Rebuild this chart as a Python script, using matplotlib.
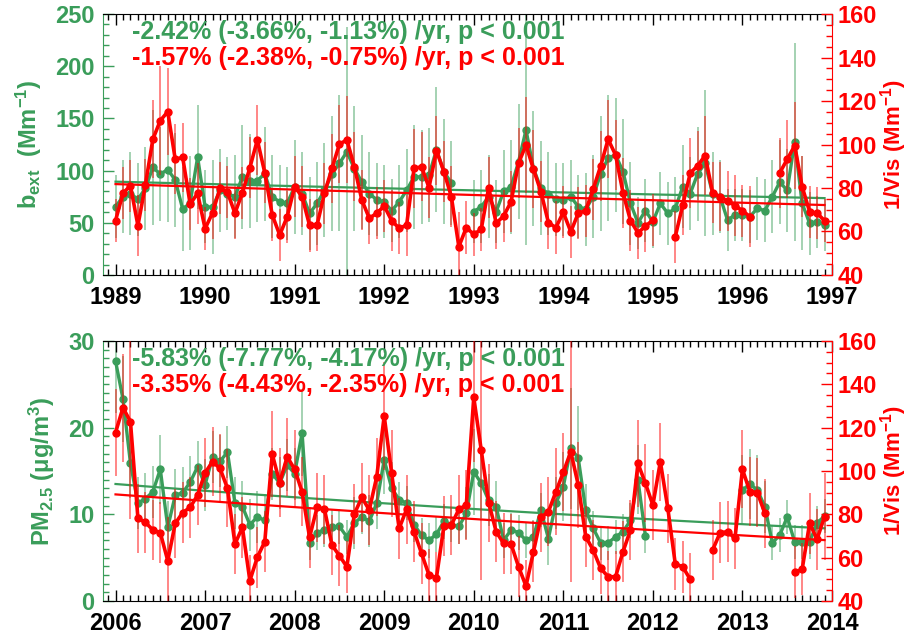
import numpy as np
import matplotlib
matplotlib.use("Agg")
import matplotlib.pyplot as plt
from matplotlib.ticker import MultipleLocator

nan = np.nan
plt.rcParams['font.family'] = ['Liberation Sans', 'DejaVu Sans']
plt.rcParams['mathtext.fontset'] = 'custom'
plt.rcParams['mathtext.rm'] = 'Liberation Sans:bold'
plt.rcParams['mathtext.it'] = 'Liberation Sans:bold'
plt.rcParams['mathtext.bf'] = 'Liberation Sans:bold'

# ---------------- data ----------------
years_top = [1989, 1990, 1991, 1992, 1993, 1994, 1995, 1996, 1997]
years_bot = [2006, 2007, 2008, 2009, 2010, 2011, 2012, 2013, 2014]

bext = [65.4, 75, 78, 72.5, 83, 103, 96.7, 101, 91, 63, 69, 113,
        65.4, 65, 81, 78, 75, 94, 90, 90.5, 97, 75, 70, 68.6,
        84.6, 78, 59, 68.6, 81, 97, 107, 118, 102, 89, 78, 72,
        70, 61.6, 70, 81, 94, 94, 95.5, 120, 99, 88, nan, nan,
        60.6, 65.4, 75, 60.6, 80, 84.6, 108.5, 139, 102, 83, 78, 72.5,
        72, 75, 65.4, 63, 75, 97, 112, 115, 99, 68.6, 50, 61.6,
        51, 68.6, 59, 63.8, 84.6, 78, 97, 107, 78, 75, 52.7, 57.5,
        57.5, 56, 63.8, 61.6, 75, 89, 81, 127.7, 68.6, 49.5, 51, 48]
bext_err = [30, 35, 40, 35, 40, 55, 45, 50, 45, 40, 45, 50,
            35, 45, 40, 35, 40, 50, 45, 40, 45, 40, 35, 35,
            45, 40, 35, 40, 45, 55, 65, 120, 60, 45, 40, 35,
            35, 30, 35, 40, 50, 45, 45, 60, 50, 40, 0, 0,
            30, 35, 40, 30, 40, 45, 55, 110, 55, 45, 40, 35,
            35, 35, 30, 35, 40, 55, 60, 55, 50, 40, 25, 30,
            25, 30, 30, 30, 40, 35, 45, 70, 40, 35, 30, 25,
            25, 25, 30, 30, 35, 40, 40, 95, 45, 30, 25, 25]

vis_top = [65.0, 77.6, 81.1, 62.7, 81.4, 102.4, 111, 115.1, 93.2, 94.1, 72.6, 77.6,
           61.3, 68.6, 79.9, 78.0, 68.4, 77.8, 89.3, 102.1, 87.0, 67.6, 58.4, 66.8,
           80.6, 76.0, 62.8, 62.9, 77.6, 89.0, 100.2, 102.1, 89.8, 74.5, 66.1, 68.4,
           71.7, 65.0, 61.5, 62.9, 89.0, 89.8, 80.2, 97.2, 87.5, 76.0, 53.0, 61.8,
           58.7, 61.0, 80.2, 63.8, 67.1, 73.7, 91.4, 99.8, 88.6, 78.3, 64.1, 61.8,
           68.8, 59.9, 68.4, 69.6, 79.4, 90.1, 102.4, 95.2, 77.8, 65.0, 59.4, 62.4,
           65.3, nan, nan, 57.6, 72.2, 86.8, 90.3, 94.9, 77.8, 76.0, 74.0, 71.9,
           69.6, 66.8, nan, nan, nan, 87.0, 93.2, 99.5, 80.6, 69.1, 68.4, 65.0]
vis_top_err = [10, 12, 12, 14, 12, 18, 25, 20, 16, 16, 12, 14,
               10, 12, 12, 12, 12, 12, 14, 16, 14, 12, 12, 12,
               14, 14, 12, 12, 14, 16, 18, 20, 16, 14, 12, 12,
               12, 14, 12, 14, 18, 16, 14, 16, 14, 14, 16, 12,
               10, 10, 14, 12, 12, 14, 16, 22, 18, 14, 12, 12,
               12, 12, 12, 12, 14, 16, 18, 16, 16, 14, 12, 12,
               12, 0, 0, 12, 14, 16, 16, 18, 14, 16, 14, 14,
               12, 14, 0, 0, 0, 16, 18, 20, 14, 12, 12, 10]

pm25 = [27.7, 23.3, 15.9, 11.3, 11.8, 12.6, 15.2, 8.5, 12.2, 12.5, 13.7, 15.5,
        13.4, 16.6, 16.1, 17.2, 11.3, 10.9, 8.8, 9.7, 9.3, 14.7, 13.6, 15.7,
        14.7, 19.4, 6.7, 7.9, 8.2, 8.5, 8.6, 7.4, 9.0, 9.7, 9.2, 11.3,
        16.3, 13.0, 11.7, 11.3, 8.8, 7.6, 7.0, 7.7, 9.2, 8.8, 8.6, 10.1,
        14.9, 13.6, 11.6, 10.9, 7.0, 8.2, 7.9, 7.0, 7.4, 10.5, 7.2, 11.3,
        13.2, 17.6, 16.5, 10.5, 8.4, 6.7, 6.7, 7.4, 8.0, 9.3, 14.0, 7.5,
        nan, nan, nan, nan, nan, nan, nan, nan, nan, nan, nan, nan,
        12.8, 13.5, 12.8, 10.9, 6.7, 7.6, 9.7, 6.8, 6.8, 6.8, 9.0, 9.8]
pm25_err = [6, 5, 4, 3, 3, 3, 4, 3, 3, 3, 3, 3,
            3, 3, 3, 3, 3, 3, 3, 3, 3, 3, 3, 3,
            3, 5, 2, 2, 2, 2, 2, 2, 3, 2, 3, 3,
            4, 3, 2, 2, 2, 2, 2, 2, 2, 2, 2, 3,
            5, 4, 3, 3, 2, 2, 2, 2, 2, 2, 3, 3,
            4, 7, 6, 3, 2, 2, 2, 2, 2, 2, 4, 2,
            0, 0, 0, 0, 0, 0, 0, 0, 0, 0, 0, 0,
            4, 4, 4, 3, 2, 2, 2, 2, 2, 2, 2, 2]

vis_bot = [117.7, 129.2, 122.8, 78.2, 76.3, 72.8, 71.5, 58.6, 75.8, 80.8, 83.2, 88.9,
           99.2, 104.3, 101.2, 92.0, 66.3, 74.0, 49.4, 60.2, 67.4, 107.8, 94.6, 106.6,
           100.8, 90.4, 69.4, 83.2, 82.3, 65.8, 60.9, 55.8, 80.2, 87.8, 82.0, 97.4,
           125.4, 98.9, 73.5, 82.3, 72.0, 62.0, 52.0, 50.8, 74.6, 75.1, 82.3, 84.3,
           134.0, 109.7, 85.4, 72.0, 66.6, 66.3, 55.8, 46.9, 62.8, 78.6, 81.2, 90.4,
           99.4, 108.9, 93.5, 69.7, 63.5, 55.1, 51.2, 51.2, 62.8, 72.8, 103.5, 94.3,
           84.3, 104.3, 82.8, 57.1, 55.8, 50.0, nan, nan, 63.5, 71.5, 72.0, 68.9,
           100.8, 90.4, 90.0, 80.5, nan, nan, nan, 53.2, 54.6, 75.9, 68.5, 79.0]
vis_bot_err = [20, 25, 45, 16, 14, 14, 14, 20, 16, 14, 14, 14,
               16, 16, 16, 18, 14, 14, 12, 14, 14, 20, 16, 18,
               18, 16, 14, 16, 16, 14, 14, 12, 14, 16, 16, 18,
               25, 20, 14, 16, 14, 14, 12, 12, 14, 14, 16, 16,
               30, 60, 18, 14, 14, 14, 14, 12, 14, 16, 16, 20,
               18, 60, 20, 14, 14, 12, 12, 12, 14, 14, 20, 18,
               16, 18, 16, 12, 12, 12, 0, 0, 14, 14, 14, 14,
               18, 16, 16, 16, 0, 0, 0, 12, 12, 14, 14, 20]

# trend parameters (start value, % per year)
trend_top_green = (89.4, -2.42)
trend_top_red = (81.8, -1.57)
trend_bot_green = (13.5, -5.83)
trend_bot_red = (89.2, -3.35)

txt_top_green = "-2.42% (-3.66%, -1.13%) /yr, p < 0.001"
txt_top_red = "-1.57% (-2.38%, -0.75%) /yr, p < 0.001"
txt_bot_green = "-5.83% (-7.77%, -4.17%) /yr, p < 0.001"
txt_bot_red = "-3.35% (-4.43%, -2.35%) /yr, p < 0.001"

GREEN = '#3a9d5a'
GREEN_BAR = '#4ea86a'
RED = '#ff0000'

fig = plt.figure(figsize=(9.09, 6.37), dpi=100)


def panel(rect, y0, green, gerr, red, rerr, tg, tr, glim, gmaj, gmin,
          glabel, txt_g, txt_r):
    ax = fig.add_axes(rect)
    t = y0 + np.arange(len(green)) / 12.0
    ax.errorbar(t, green, yerr=gerr, fmt='none', ecolor=GREEN_BAR,
                elinewidth=1.1, alpha=0.65, zorder=1)
    ax.plot(t, green, '-o', color=GREEN, lw=2.4, ms=5, zorder=3)
    tl = np.linspace(t[0], t[-1], 50)
    ax.plot(tl, tg[0] * (1 + tg[1] / 100.0) ** (tl - t[0]), color=GREEN,
            lw=1.6, zorder=2)
    ax.set_ylim(*glim)
    ax.yaxis.set_major_locator(MultipleLocator(gmaj))
    ax.yaxis.set_minor_locator(MultipleLocator(gmin))
    ax.xaxis.set_major_locator(MultipleLocator(1))
    ax.xaxis.set_minor_locator(MultipleLocator(1 / 12.0))
    ax.set_xlim(y0 - 0.143, y0 + 8.0)
    ax.tick_params(axis='x', which='both', direction='in', top=True,
                   bottom=True, colors='black', labelsize=17, pad=8)
    ax.tick_params(axis='x', which='major', length=8, width=1)
    ax.tick_params(axis='x', which='minor', length=4, width=1)
    ax.tick_params(axis='y', which='both', direction='in', colors=GREEN,
                   labelsize=17, pad=6)
    ax.tick_params(axis='y', which='major', length=8, width=1)
    ax.tick_params(axis='y', which='minor', length=4, width=1)
    for lab in ax.get_xticklabels() + ax.get_yticklabels():
        lab.set_fontweight('bold')
    ax.spines['left'].set_color(GREEN)
    ax.spines['right'].set_visible(False)
    ax.set_ylabel(glabel, color=GREEN, fontsize=17, fontweight='bold',
                  labelpad=8)

    ax2 = ax.twinx()
    ax2.errorbar(t, red, yerr=rerr, fmt='none', ecolor=RED,
                 elinewidth=1.1, alpha=0.6, zorder=1)
    ax2.plot(tl, tr[0] * (1 + tr[1] / 100.0) ** (tl - t[0]), color=RED,
             lw=1.6, zorder=2)
    ax2.plot(t, red, '-o', color=RED, lw=2.6, ms=5, zorder=3)
    ax2.set_ylim(40, 160)
    ax2.yaxis.set_major_locator(MultipleLocator(20))
    ax2.yaxis.set_minor_locator(MultipleLocator(5))
    ax2.tick_params(axis='y', which='both', direction='in', colors=RED,
                    labelsize=17, pad=4)
    ax2.tick_params(axis='y', which='major', length=8, width=1)
    ax2.tick_params(axis='y', which='minor', length=4, width=1)
    for lab in ax2.get_yticklabels():
        lab.set_fontweight('bold')
    for s in ['left', 'top', 'bottom']:
        ax2.spines[s].set_visible(False)
    ax2.spines['right'].set_color(RED)
    ax2.set_ylabel(r'1/Vis (Mm$^{-1}$)', color=RED, fontsize=16,
                   fontweight='bold', labelpad=1)
    ax2.text(0.04, 0.932, txt_g, transform=ax.transAxes, color=GREEN,
             fontsize=18, fontweight='bold', va='center', ha='left',
             zorder=10)
    ax2.text(0.04, 0.832, txt_r, transform=ax.transAxes, color=RED,
             fontsize=18, fontweight='bold', va='center', ha='left',
             zorder=10)
    return ax, ax2


panel([0.1130, 0.5683, 0.8023, 0.4097], years_top[0], bext, bext_err,
      vis_top, vis_top_err, trend_top_green, trend_top_red, (0, 250), 50, 10,
      r'b$_{\rm ext}$  (Mm$^{-1}$)', txt_top_green, txt_top_red)
panel([0.1130, 0.0565, 0.8023, 0.4082], years_bot[0], pm25, pm25_err,
      vis_bot, vis_bot_err, trend_bot_green, trend_bot_red, (0, 30), 10, 1,
      r'PM$_{2.5}$ ($\mu$g/m$^{3}$)', txt_bot_green, txt_bot_red)

fig.savefig('out.png', dpi=100)
